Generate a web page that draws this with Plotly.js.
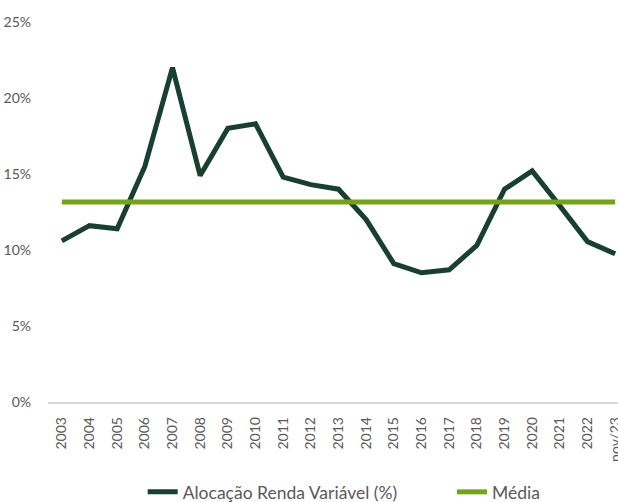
<!DOCTYPE html>
<html>
<head>
<meta charset="utf-8">
<script src="https://cdn.plot.ly/plotly-3.0.1.min.js"></script>
<style>
html,body{margin:0;padding:0;overflow:hidden;background:#fff;}
#chart{position:absolute;left:-2px;top:0;}
</style>
</head>
<body>
<div id="chart"></div>
<script>
const categories = ["2003","2004","2005","2006","2007","2008","2009","2010","2011","2012","2013","2014","2015","2016","2017","2018","2019","2020","2021","2022","nov/23"];
const alocacao = [10.6,11.6,11.4,15.5,22.0,14.9,18.0,18.3,14.8,14.3,14.0,12.0,9.1,8.5,8.7,10.3,14.0,15.2,12.9,10.55,9.75];
const media = [13.16,13.16,13.16,13.16,13.16,13.16,13.16,13.16,13.16,13.16,13.16,13.16,13.16,13.16,13.16,13.16,13.16,13.16,13.16,13.16,13.16];
const yTickVals = [0,5,10,15,20,25];
const yTickText = ["0%","5%","10%","15%","20%","25%"];

const traces = [
  {x: categories, y: alocacao, type: 'scatter', mode: 'lines', name: 'Alocação Renda Variável (%)',
   line: {color: '#183f30', width: 5}, legend: 'legend'},
  {x: categories, y: media, type: 'scatter', mode: 'lines', name: 'Média',
   line: {color: '#74a21f', width: 5}, legend: 'legend2'}
];

const legendBase = {orientation: 'h', xref: 'container', yref: 'container', xanchor: 'left',
                    y: 0.02, yanchor: 'middle', font: {size: 17.5, color: '#595959'},
                    bgcolor: 'rgba(0,0,0,0)'};

const layout = {
  width: 643, height: 502,
  margin: {l: 50, r: 12, t: 22, b: 100},
  paper_bgcolor: '#fff', plot_bgcolor: '#fff',
  font: {family: 'Lato, "Open Sans", sans-serif', size: 14, color: '#595959'},
  showlegend: true,
  legend: Object.assign({}, legendBase, {x: 0.225}),
  legend2: Object.assign({}, legendBase, {x: 0.706}),
  xaxis: {type: 'category', range: [-0.5, 20.5], showgrid: false, zeroline: false, automargin: false,
          showline: true, linecolor: '#d9d9d9', linewidth: 1.5, tickangle: -90,
          ticks: '', ticklabelstandoff: 8, tickfont: {size: 14, color: '#595959'}, fixedrange: true},
  yaxis: {range: [0, 25], tickvals: yTickVals, ticktext: yTickText, showgrid: false, automargin: false,
          zeroline: false, showline: false, ticks: '', ticklabelstandoff: 16,
          tickfont: {size: 14, color: '#595959'}, fixedrange: true}
};

Plotly.newPlot('chart', traces, layout, {displayModeBar: false, staticPlot: true});
</script>
</body>
</html>
